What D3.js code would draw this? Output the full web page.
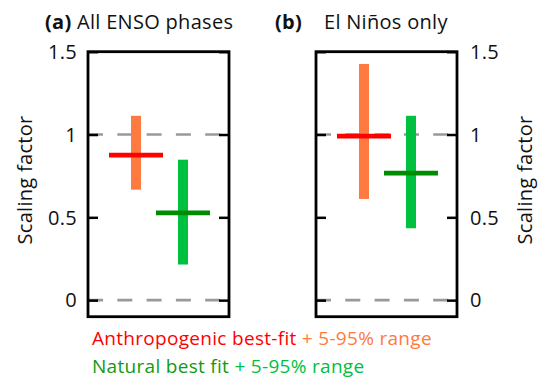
<!DOCTYPE html>
<html>
<head>
<meta charset="utf-8">
<script src="https://cdn.jsdelivr.net/npm/d3@7"></script>
<style>
  body { margin: 0; background: #fff; }
  svg text { font-family: "Open Sans", sans-serif; fill: #111; letter-spacing: 0.3px; }
</style>
</head>
<body>
<svg width="539" height="379"></svg>
<script>
// data
const forcings = ['Anthropogenic', 'Natural'];
const panelTitles = ['All ENSO phases', 'El Niños only'];
const panelLetters = ['(a)', '(b)'];
// best-fit scaling factors, [All ENSO, El Ninos]
const bestFit = { Anthropogenic: [0.876, 0.99], Natural: [0.527, 0.767] };
const rangeLow = { Anthropogenic: [0.667, 0.611], Natural: [0.215, 0.434] };
const rangeHigh = { Anthropogenic: [1.113, 1.426], Natural: [0.848, 1.113] };
const yTicks = [0, 0.5, 1, 1.5];
const yTickLabels = ['0', '0.5', '1', '1.5'];
const refLines = [0, 1];

const svg = d3.select('svg');

const rangeColor = { Anthropogenic: '#ff7a40', Natural: '#00c040' };
const fitColor = { Anthropogenic: '#ff0000', Natural: '#008c00' };

const boxW = 141;
const panelX = [88, 316];

const y = d3.scaleLinear().domain([-0.1, 1.5]).range([316.7, 51.7]);
const x = d3.scalePoint().domain(forcings).range([1, boxW + 1]).padding(1);

panelX.forEach((px, i) => {
  const g = svg.append('g').attr('transform', `translate(${px},0)`);

  // dashed reference lines
  g.selectAll('.ref').data(refLines).enter().append('line')
    .attr('x1', 0).attr('x2', boxW)
    .attr('y1', d => y(d)).attr('y2', d => y(d))
    .attr('stroke', '#999').attr('stroke-width', 2.6)
    .attr('stroke-dasharray', '15,14.3');

  // ticks inside on both sides
  g.append('g').call(d3.axisRight(y).tickValues(yTicks).tickSize(10).tickFormat(''))
    .call(a => a.select('.domain').remove())
    .selectAll('line').attr('stroke', '#000').attr('stroke-width', 2.5);
  g.append('g').attr('transform', `translate(${boxW},0)`)
    .call(d3.axisLeft(y).tickValues(yTicks).tickSize(10).tickFormat(''))
    .call(a => a.select('.domain').remove())
    .selectAll('line').attr('stroke', '#000').attr('stroke-width', 2.5);

  // range bars
  g.selectAll('.rng').data(forcings).enter().append('rect')
    .attr('x', d => x(d) - 5).attr('width', 10)
    .attr('y', d => y(rangeHigh[d][i]))
    .attr('height', d => y(rangeLow[d][i]) - y(rangeHigh[d][i]))
    .attr('fill', d => rangeColor[d]);

  // best-fit lines
  g.selectAll('.fit').data(forcings).enter().append('line')
    .attr('x1', d => x(d) - 27).attr('x2', d => x(d) + 27)
    .attr('y1', d => y(bestFit[d][i])).attr('y2', d => y(bestFit[d][i]))
    .attr('stroke', d => fitColor[d]).attr('stroke-width', 4.7);

  // frame
  g.append('rect')
    .attr('x', 0).attr('y', y(1.5)).attr('width', boxW).attr('height', y(-0.1) - y(1.5))
    .attr('fill', 'none').attr('stroke', '#000').attr('stroke-width', 2.8);
});

// tick labels
svg.append('g').attr('transform', `translate(${panelX[0] - 11},0)`)
  .selectAll('text').data(yTicks).enter().append('text')
  .attr('y', d => y(d)).attr('dy', '0.36em')
  .attr('text-anchor', 'end').attr('font-size', 20)
  .text((d, k) => yTickLabels[k]);
svg.append('g').attr('transform', `translate(${panelX[1] + boxW + 13},0)`)
  .selectAll('text').data(yTicks).enter().append('text')
  .attr('y', d => y(d)).attr('dy', '0.36em')
  .attr('text-anchor', 'start').attr('font-size', 20)
  .text((d, k) => yTickLabels[k]);

// axis titles
[32, 532].forEach(ax => {
  svg.append('text')
    .attr('transform', `translate(${ax},180) rotate(-90)`)
    .attr('text-anchor', 'middle').attr('font-size', 20)
    .text('Scaling factor');
});

// panel titles
const t1 = svg.append('text').attr('x', 45).attr('y', 29).attr('font-size', 20);
t1.append('tspan').attr('font-weight', 'bold').text(panelLetters[0]);
t1.append('tspan').text(' ' + panelTitles[0]);
svg.append('text').attr('x', 275).attr('y', 29).attr('font-size', 20)
  .attr('font-weight', 'bold').text(panelLetters[1]);
svg.append('text').attr('x', 324).attr('y', 29).attr('font-size', 20)
  .text(panelTitles[1]);

// legend
const l1 = svg.append('text').attr('x', 92).attr('y', 345).attr('font-size', 19);
l1.append('tspan').style('fill', fitColor.Anthropogenic).text('Anthropogenic best-fit');
l1.append('tspan').style('fill', rangeColor.Anthropogenic).text(' + 5-95% range');
const l2 = svg.append('text').attr('x', 92).attr('y', 373).attr('font-size', 19);
l2.append('tspan').style('fill', '#139a13').text('Natural best fit');
l2.append('tspan').style('fill', rangeColor.Natural).text(' + 5-95% range');
</script>
</body>
</html>
